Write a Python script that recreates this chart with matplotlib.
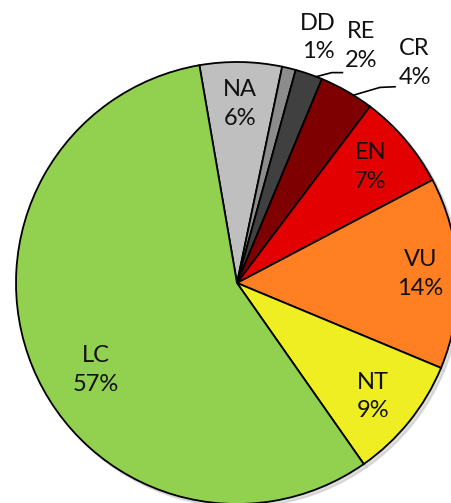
import numpy as np
import matplotlib
matplotlib.use("Agg")
import matplotlib.pyplot as plt

# IUCN categories, clockwise from the top
categories = ["NA", "DD", "RE", "CR", "EN", "VU", "NT", "LC"]
shares = [6, 1, 2, 4, 7, 14, 9, 57]
colors = ["#BFBFBF", "#8C8C8C", "#404040", "#7F0000", "#E30000",
          "#FF7F22", "#EEEE22", "#92D050"]

# label placement (radius, angle in degrees)
label_pos = [(0.81, 89), (1.17, 71.7), (1.21, 62.3), (1.28, 51.1),
             (0.80, 41.1), (0.83, 2.8), (0.80, -39.9), (0.75, 211.7)]
# leader lines for the small outside labels: index -> (elbow, end)
leaders = {2: ((0.429, 0.952), (0.477, 0.952)),
           3: ((0.647, 0.885), (0.715, 0.888))}

start = 99.8

W, H = 451, 503
cx, cy, R = 237, 283, 221
fig = plt.figure(figsize=(W / 100, H / 100), dpi=100)
ax = fig.add_axes([0, 0, 1, 1])

wedges, _ = ax.pie(shares, colors=colors, startangle=start, counterclock=False,
                   wedgeprops=dict(edgecolor="black", linewidth=1.3),
                   shadow=dict(ox=0.01, oy=-0.01, color="#C8C8C8", alpha=0.6))

ax.set_xlim(-cx / R, (W - cx) / R)
ax.set_ylim(-(H - cy) / R, cy / R)
ax.set_aspect("auto")
ax.axis("off")

total = sum(shares)
cum = 0
for i, (cat, val) in enumerate(zip(categories, shares)):
    mid = start - 360 * (cum + val / 2) / total
    cum += val
    r, ang = label_pos[i]
    x, y = r * np.cos(np.radians(ang)), r * np.sin(np.radians(ang))
    ax.text(x, y, f"{cat}\n{round(100 * val / total)}%", ha="center", va="center",
            fontsize=17, family="Lato", linespacing=1.45, color="#111111")
    if i in leaders:
        elbow, end = leaders[i]
        sx, sy = np.cos(np.radians(mid - 2)), np.sin(np.radians(mid - 2))
        ax.plot([sx, elbow[0], end[0]], [sy, elbow[1], end[1]],
                color="black", linewidth=1.2)

fig.savefig("out.png", dpi=100)
